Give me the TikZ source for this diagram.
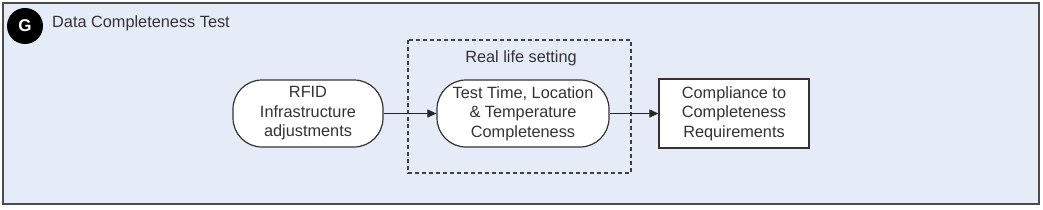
\documentclass[tikz,border=0pt]{standalone}
\usepackage{fontspec}
\setmainfont{Liberation Sans}
\usetikzlibrary{arrows.meta}
\definecolor{bgblue}{HTML}{E6ECF7}
\definecolor{txt}{HTML}{333333}
\tikzset{
  lbl/.style={font=\fontsize{16.3}{19.5}\selectfont, text=txt, align=center},
  roundbox/.style={lbl, draw=black!80, line width=1.2pt, fill=white, rounded corners=29pt, minimum width=150pt, minimum height=67pt, inner sep=0pt},
  rectbox/.style={lbl, draw=black!80, line width=1.2pt, fill=white, minimum width=150pt, minimum height=69pt, inner sep=0pt},
  conn/.style={line width=1pt, draw=black!85, -{Triangle[length=9pt,width=8pt]}}
}
\begin{document}
\begin{tikzpicture}[x=1pt,y=-1pt]
\useasboundingbox (0,0) rectangle (1043,209);
\draw[fill=bgblue, draw=black!70, line width=1.2pt] (3,3) rectangle (1039,204);
\node[circle, fill=black, minimum size=36pt, inner sep=0pt, text=white, font=\fontsize{17}{19}\selectfont\bfseries] (g) at (25,26) {G};
\node[lbl, anchor=base west, inner sep=0pt] (title) at (52,27) {Data Completeness Test};
\draw[draw=black!75, line width=1.1pt, dash pattern=on 4pt off 3pt] (408,40) rectangle (631,173);
\node[lbl, anchor=base, inner sep=0pt] (rl) at (521,62) {Real life setting};
\node[roundbox] (rfid) at (308,113.5) {RFID\\Infrastructure\\adjustments};
\node[roundbox, minimum width=172pt] (test) at (523,113.5) {Test Time, Location\\\& Temperature\\Completeness};
\node[rectbox] (comp) at (734,113.5) {Compliance to\\Completeness\\Requirements};
\draw[conn] (rfid) -- (test);
\draw[conn] (test) -- (comp);
\end{tikzpicture}
\end{document}
